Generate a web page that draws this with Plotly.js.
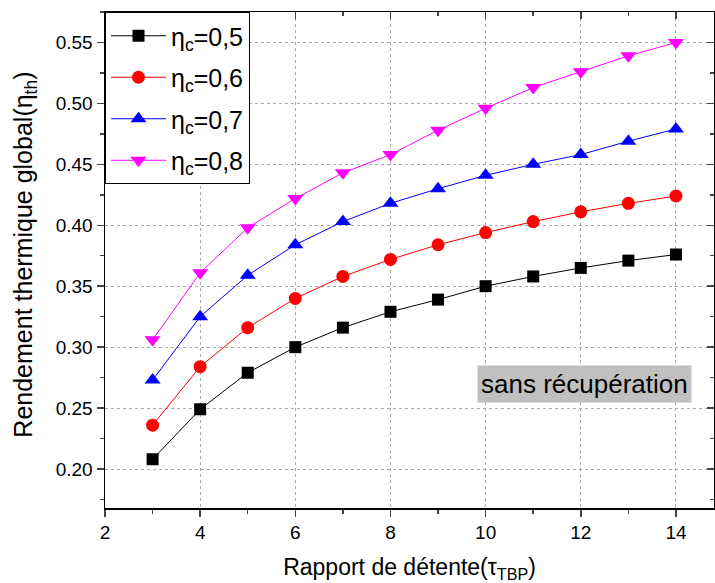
<!DOCTYPE html>
<html>
<head>
<meta charset="utf-8">
<script src="https://cdn.plot.ly/plotly-3.0.1.min.js"></script>
<style>html,body{margin:0;padding:0;background:#fff;}#chart{width:715px;height:583px;}</style>
</head>
<body>
<div id="chart"></div>
<script>
const tauTBP = [3, 4, 5, 6, 7, 8, 9, 10, 11, 12, 13, 14];
const eta05 = [0.208, 0.249, 0.279, 0.300, 0.316, 0.329, 0.339, 0.350, 0.358, 0.365, 0.371, 0.376];
const eta06 = [0.236, 0.284, 0.316, 0.340, 0.358, 0.372, 0.384, 0.394, 0.403, 0.411, 0.418, 0.424];
const eta07 = [0.273, 0.325, 0.359, 0.384, 0.403, 0.418, 0.430, 0.441, 0.450, 0.458, 0.469, 0.479];
const eta08 = [0.306, 0.361, 0.398, 0.422, 0.443, 0.458, 0.478, 0.496, 0.513, 0.526, 0.539, 0.550];
const seriesNames = ['η<sub>c</sub>=0,5', 'η<sub>c</sub>=0,6', 'η<sub>c</sub>=0,7', 'η<sub>c</sub>=0,8'];
const seriesColors = ['#000000', '#ff0000', '#0000ff', '#ff00ff'];
const seriesSymbols = ['square', 'circle', 'triangle-up', 'triangle-down'];
const seriesSizes = [12, 13, 14, 14];
const allSeries = [eta05, eta06, eta07, eta08];

const FONT = 'Liberation Sans, Arial, sans-serif';
const traces = allSeries.map((ys, i) => ({
  x: tauTBP, y: ys, type: 'scatter', mode: 'lines+markers',
  name: seriesNames[i], legendgroup: 'g' + i,
  line: {color: seriesColors[i], width: 1},
  marker: {color: seriesColors[i], symbol: seriesSymbols[i], size: seriesSizes[i]}
}));
traces.push({x: [], y: [], xaxis: 'x2', yaxis: 'y2', showlegend: false, hoverinfo: 'skip'});

const xRange = [2, 14.8];
const yRange = [0.168, 0.575];
const gridStyle = {showgrid: true, gridcolor: '#aaaaaa', griddash: 'dot', gridwidth: 1};

const layout = {
  width: 715, height: 583,
  margin: {l: 105, r: 1, t: 12, b: 75},
  paper_bgcolor: '#ffffff', plot_bgcolor: '#ffffff',
  font: {family: FONT, color: '#000'},
  showlegend: true,
  legend: {x: 0, y: 1, xanchor: 'left', yanchor: 'top', bgcolor: '#ffffff',
           bordercolor: '#000', borderwidth: 1, font: {size: 25, family: FONT},
           tracegroupgap: 6, itemwidth: 55},
  xaxis: Object.assign({
    range: xRange, dtick: 2, tick0: 2, ticks: 'outside', ticklen: 7, tickwidth: 1.5,
    minor: {dtick: 1, ticks: 'outside', ticklen: 4, tickwidth: 1.5, showgrid: false},
    showline: true, linecolor: '#000', linewidth: 1.5, zeroline: false,
    tickfont: {size: 19, family: FONT},
    title: {text: 'Rapport de détente(τ<sub>TBP</sub>)', font: {size: 23, family: FONT}, standoff: 22}
  }, gridStyle),
  yaxis: Object.assign({
    range: yRange, dtick: 0.05, tick0: 0.2, tickformat: '.2f', ticks: 'outside', ticklen: 7, tickwidth: 1.5,
    minor: {dtick: 0.025, ticks: 'outside', ticklen: 4, tickwidth: 1.5, showgrid: false},
    showline: true, linecolor: '#000', linewidth: 1.5, zeroline: false,
    tickfont: {size: 19, family: FONT}
  }, gridStyle),
  xaxis2: {
    overlaying: 'x', side: 'top', anchor: 'y2', range: xRange, dtick: 2, tick0: 2,
    ticks: 'inside', ticklen: 7, tickwidth: 1.5, showticklabels: false, showgrid: false,
    minor: {dtick: 1, ticks: 'inside', ticklen: 4, tickwidth: 1.5},
    showline: true, linecolor: '#000', linewidth: 1.5, zeroline: false
  },
  yaxis2: {
    overlaying: 'y', side: 'right', anchor: 'x2', range: yRange, dtick: 0.05, tick0: 0.2,
    ticks: 'inside', ticklen: 7, tickwidth: 1.5, showticklabels: false, showgrid: false,
    minor: {dtick: 0.025, ticks: 'inside', ticklen: 4, tickwidth: 1.5},
    showline: true, linecolor: '#000', linewidth: 1.5, zeroline: false
  },
  annotations: [{
    x: 12.08, y: 0.2695, xref: 'x', yref: 'y', text: 'sans récupération', showarrow: false,
    bgcolor: '#c0c0c0', font: {size: 26, family: FONT, color: '#000'}, borderpad: 3
  }, {
    x: -0.132, y: 0.51, xref: 'paper', yref: 'paper', xanchor: 'center', yanchor: 'middle',
    text: 'Rendement thermique global(η<sub>th</sub>)', textangle: -90, showarrow: false,
    font: {size: 25, family: FONT, color: '#000'}
  }]
};

Plotly.newPlot('chart', traces, layout, {displayModeBar: false, staticPlot: true});
</script>
</body>
</html>
